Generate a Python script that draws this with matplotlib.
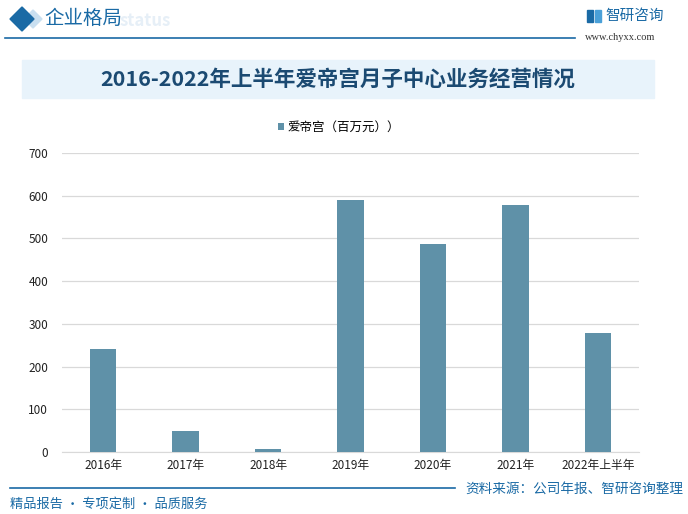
import matplotlib.pyplot as plt
from matplotlib.patches import Rectangle, Polygon
from matplotlib.lines import Line2D

plt.rcParams['font.family'] = ['Noto Sans CJK SC', 'DejaVu Sans']

categories = ["2016年", "2017年", "2018年", "2019年", "2020年", "2021年", "2022年上半年"]
values = [240, 50, 8, 590, 487, 579, 279]
series_name = "爱帝宫（百万元））"
yticks = [0, 100, 200, 300, 400, 500, 600, 700]

W, H = 688, 514
BAR_COLOR = "#5f91a8"
BLUE = "#1a6aa5"


def fx(px):
    return px / W


def fy(py):
    return 1 - py / H


def main():
    fig = plt.figure(figsize=(6.88, 5.14), dpi=100)

    # header
    fig.add_artist(Polygon([(fx(24), fy(19)), (fx(33), fy(10)), (fx(42), fy(19)), (fx(33), fy(28))],
                           closed=True, color="#c9dff0", transform=fig.transFigure, zorder=0))
    fig.add_artist(Polygon([(fx(10), fy(19)), (fx(22), fy(7)), (fx(34), fy(19)), (fx(22), fy(31))],
                           closed=True, color=BLUE, transform=fig.transFigure))
    fig.text(fx(120), fy(21), "status", fontsize=12, color="#e6eff7", fontweight="bold",
             va="center", ha="left", zorder=0)
    fig.text(fx(44), fy(18), "企业格局", fontsize=14, color=BLUE, va="center", ha="left")
    fig.add_artist(Line2D([fx(5), fx(575)], [fy(38), fy(38)], color=BLUE, lw=1.2,
                          transform=fig.transFigure))
    fig.add_artist(Rectangle((fx(587), fy(22)), 6 / W, 12 / H, color=BLUE, transform=fig.transFigure))
    fig.add_artist(Rectangle((fx(595), fy(22)), 6 / W, 12 / H, color="#4aa0d8", transform=fig.transFigure))
    fig.text(fx(605), fy(16), "智研咨询", fontsize=10.5, color=BLUE, va="center", ha="left")
    fig.text(fx(585), fy(37), "www.chyxx.com", fontsize=7.5, color="#333333", va="center", ha="left",
             family=["Liberation Serif", "DejaVu Serif"])

    # title band
    fig.add_artist(Rectangle((fx(22), fy(98)), 632 / W, 38 / H, color="#e8f3fb",
                             transform=fig.transFigure, zorder=0))
    fig.text(fx(338), fy(79), "2016-2022年上半年爱帝宫月子中心业务经营情况", fontsize=15.5,
             fontweight="bold", color="#1b4a72", ha="center", va="center")

    # chart
    ax = fig.add_axes([fx(62), fy(452), (639 - 62) / W, (452 - 153) / H])
    x = range(len(categories))
    ax.bar(x, values, width=0.32, color=BAR_COLOR, label=series_name, zorder=3)
    ax.set_xlim(-0.5, len(categories) - 0.5)
    ax.set_ylim(0, 700)
    ax.set_yticks(yticks)
    ax.set_xticks(list(x))
    ax.set_xticklabels(categories)
    ax.tick_params(axis="both", length=0, labelsize=8.5, colors="#222222")
    ax.tick_params(axis="y", pad=10)
    ax.tick_params(axis="x", pad=5)
    ax.yaxis.grid(True, color="#d9d9d9", lw=0.9, zorder=0)
    for s in ["top", "right", "left"]:
        ax.spines[s].set_visible(False)
    ax.spines["bottom"].set_color("#d9d9d9")
    ax.legend(loc="center", bbox_to_anchor=(0.48, 1.085), frameon=False, fontsize=9,
              handlelength=0.5, handleheight=0.5, handletextpad=0.3)

    # footer
    fig.add_artist(Line2D([fx(10), fx(455)], [fy(488), fy(488)], color=BLUE, lw=1.2,
                          transform=fig.transFigure))
    fig.text(fx(10), fy(504), "精品报告 · 专项定制 · 品质服务", fontsize=9.5, color=BLUE,
             va="center", ha="left")
    fig.text(fx(683), fy(489), "资料来源：公司年报、智研咨询整理", fontsize=9.8, color=BLUE,
             va="center", ha="right")

    fig.savefig("out.png", dpi=100)
    plt.close(fig)


if __name__ == "__main__":
    main()
